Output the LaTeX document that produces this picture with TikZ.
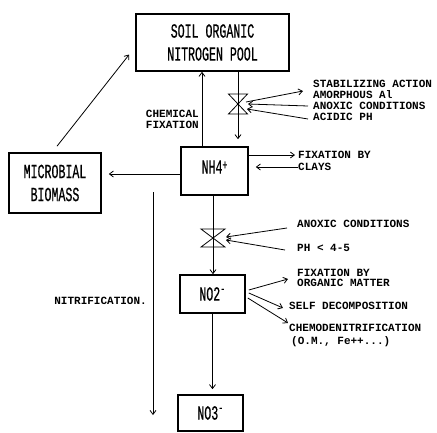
\documentclass[tikz,border=0pt]{standalone}
\usepackage{fontspec}
\newfontfamily\boxfont{Liberation Mono}[FakeStretch=0.58,FakeBold=0.6]
\newfontfamily\lblfont{Liberation Mono}
\usetikzlibrary{arrows.meta,calc}
\begin{document}
\begin{tikzpicture}[x=1pt,y=-1pt,
  box/.style={draw,line width=1.6pt,inner sep=0pt,align=center,
    font=\boxfont\fontsize{20}{23}\selectfont},
  lbl/.style={anchor=west,inner sep=0pt,font=\lblfont\bfseries\fontsize{11}{11}\selectfont},
  arr/.style={line width=0.8pt,-{Straight Barb[length=4pt,width=6pt]}},
  valve/.style={line width=0.8pt}]
\useasboundingbox (0,0) rectangle (437,432);

% boxes
\node[box,minimum width=153pt,minimum height=57pt] (soil) at (212.5,42.5) {SOIL ORGANIC\\NITROGEN POOL};
\node[box,minimum width=92pt,minimum height=60pt] (micro) at (55,183) {MICROBIAL\\BIOMASS};
\node[box,minimum width=67pt,minimum height=48pt] (nh4) at (214.5,171) {\raisebox{8pt}{NH4\raisebox{4pt}{\fontsize{14}{14}\selectfont+}}};
\node[box,minimum width=65pt,minimum height=38pt] (no2) at (212.5,294) {NO2\textsuperscript{-}};
\node[box,minimum width=65pt,minimum height=36pt] (no3) at (210.5,413) {NO3\textsuperscript{-}};

% soil -> nh4 with valve
\coordinate (v1) at (238,104);
\draw[arr,shorten >=7pt] (v1 |- soil.south) -- (v1 |- nh4.north);
\draw[valve] ($(v1)+(-9.5,-10)$) -- ++(19,0) -- ($(v1)+(-9.5,10)$) -- ++(19,0) -- cycle;

% chemical fixation
\coordinate (cf) at (202,147);
\draw[arr] (cf |- nh4.north) -- (cf |- soil.south);
\node[lbl,anchor=east] (cfa) at (199,114) {CHEMICAL};
\node[lbl,anchor=east] (cfb) at (199,125) {FIXATION};

% valve 1 labels
\node[lbl] (t1) at (313,84) {STABILIZING ACTION};
\node[lbl] (t2) at (313,95) {AMORPHOUS Al};
\node[lbl] (t3) at (313,106) {ANOXIC CONDITIONS};
\node[lbl] (t4) at (313,117) {ACIDIC PH};
\draw[arr] ($(v1)+(8,-2)$) -- ($(t1.west)+(-10,7)$);
\draw[arr] ($(t3.west)+(-5,0)$) -- ($(v1)+(10,0)$);
\draw[arr] ($(t4.west)+(-5,2)$) -- ($(v1)+(9,5)$);

% microbial
\draw[arr] ($(micro.north)+(2,-6)$) -- ($(soil.west)+(-6,12)$);
\draw[arr] ($(nh4.west)+(0,3)$) -- ($(micro.east |- nh4.west)+(7,3)$);

% fixation by clays
\node[lbl] (fc1) at (298,155) {FIXATION BY};
\node[lbl] (fc2) at (298,167) {CLAYS};
\draw[arr] (nh4.east |- fc1.west) -- ($(fc1.west)+(-3,0)$);
\draw[arr] (fc2.west) -- ($(nh4.east |- fc2.west)+(7,0)$);

% nh4 -> no2 with valve
\coordinate (v2) at (213,238);
\draw[arr] (v2 |- nh4.south) -- (v2 |- no2.north);
\draw[valve] ($(v2)+(-12,-9)$) -- ++(24,0) -- ($(v2)+(-12,9)$) -- ++(24,0) -- cycle;
\node[lbl] (a1) at (297,224) {ANOXIC CONDITIONS};
\node[lbl] (a2) at (297,248) {PH < 4-5};
\draw[arr] ($(a1.west)+(-10,4)$) -- ($(v2)+(13,-1)$);
\draw[arr] ($(a2.west)+(-12,2)$) -- ($(v2)+(13,2)$);

% no2 labels
\node[lbl] (o1) at (297,273) {FIXATION BY};
\node[lbl] (o2) at (297,283) {ORGANIC MATTER};
\node[lbl] (o3) at (289,306) {SELF DECOMPOSITION};
\node[lbl] (o4) at (289,328) {CHEMODENITRIFICATION};
\node[lbl] (o5) at (291,342) {(O.M., Fe++...)};
\draw[arr] ($(no2.east)+(3,-4)$) -- ($(o1.west)+(-9,6)$);
\draw[arr] ($(no2.east)+(3,-1)$) -- ($(o3.west)+(-6,2)$);
\draw[arr] ($(no2.east)+(2,4)$) -- ($(o4.west)+(-1,-5)$);

% no2 -> no3
\draw[arr,shorten >=5pt] (no2.south) -- (no2.south |- no3.north);

% nitrification
\coordinate (nit) at (153,192);
\coordinate (nitend) at (153,415);
\draw[arr] (nit) -- (nitend);
\node[lbl,anchor=east] (nt) at (147,301) {NITRIFICATION.};
\end{tikzpicture}
\end{document}
